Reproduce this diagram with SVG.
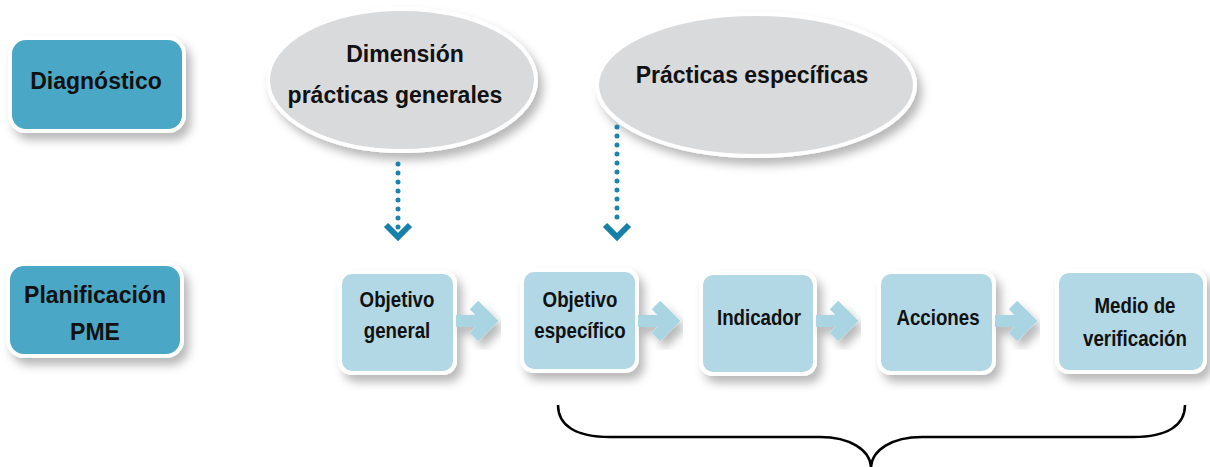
<svg xmlns="http://www.w3.org/2000/svg" width="1210" height="467" viewBox="0 0 1210 467">
<defs>
<filter id="sh" x="-20%" y="-20%" width="150%" height="160%">
<feDropShadow dx="5" dy="7" stdDeviation="5" flood-color="#000" flood-opacity="0.28"/>
</filter>
<style>
.dark{fill:#4CA7C6;stroke:#fff;stroke-width:4;filter:url(#sh)}
.light{fill:#B2D8E5;stroke:#fff;stroke-width:4;filter:url(#sh)}
.ell{fill:#D9DADC;stroke:#fff;stroke-width:4;filter:url(#sh)}
.t1{font-family:"Liberation Sans",Arial,sans-serif;font-weight:bold;font-size:23px;fill:#111;text-anchor:middle}
.t2{font-family:"Liberation Sans",Arial,sans-serif;font-weight:bold;font-size:22px;fill:#111;text-anchor:middle}
.dots{fill:none;stroke:#1B84AE;stroke-width:5;stroke-linecap:round;stroke-dasharray:0 9}
.chev{fill:none;stroke:#1780A8;stroke-width:6;stroke-linejoin:miter}
.arr{fill:none;stroke:#A9D4E2;stroke-width:12;filter:url(#sh)}
.brace{fill:none;stroke:#000;stroke-width:2.5}
</style>
</defs>
<g id="diagnostico">
<rect class="dark" x="10" y="38" width="174" height="93" rx="16"/>
<text class="t1" x="96" y="89">Diagnóstico</text>
</g>
<g id="planificacion">
<rect class="dark" x="8" y="264" width="174" height="92" rx="16"/>
<text class="t1" x="95" y="303">Planificación</text>
<text class="t1" x="95" y="340">PME</text>
</g>
<g id="dimension">
<ellipse class="ell" cx="402" cy="80" rx="134" ry="71"/>
<text class="t1" x="405" y="62">Dimensión</text>
<text class="t1" x="395" y="103">prácticas generales</text>
</g>
<g id="practicas">
<ellipse class="ell" cx="756" cy="85" rx="159" ry="71"/>
<text class="t1" x="752" y="83">Prácticas específicas</text>
</g>
<g id="objetivo-general">
<rect class="light" x="340" y="272" width="115" height="101" rx="12"/>
<text class="t2" transform="translate(397 307) scale(0.85 1)">Objetivo</text>
<text class="t2" transform="translate(397 338) scale(0.85 1)">general</text>
</g>
<g id="objetivo-especifico">
<rect class="light" x="522" y="270" width="115" height="101" rx="12"/>
<text class="t2" transform="translate(580 307) scale(0.85 1)">Objetivo</text>
<text class="t2" transform="translate(580 338) scale(0.85 1)">específico</text>
</g>
<g id="indicador">
<rect class="light" x="701" y="273" width="114" height="101" rx="12"/>
<text class="t2" transform="translate(759 325) scale(0.85 1)">Indicador</text>
</g>
<g id="acciones">
<rect class="light" x="879" y="272" width="115" height="101" rx="12"/>
<text class="t2" transform="translate(938 325) scale(0.85 1)">Acciones</text>
</g>
<g id="medio">
<rect class="light" x="1057" y="271" width="148" height="101" rx="12"/>
<text class="t2" transform="translate(1135 313) scale(0.85 1)">Medio de</text>
<text class="t2" transform="translate(1135 346) scale(0.85 1)">verificación</text>
</g>
<g id="connectors">
<path class="dots" d="M398 164 V228"/>
<polyline class="chev" points="386,225 398,237 410,225"/>
<path class="dots" d="M617 127 V226"/>
<polyline class="chev" points="605,225 617,237 629,225"/>
<path class="arr" d="M456 321 H490 M474 305 L490 321 L474 337"/>
<path class="arr" d="M638 321 H672 M656 305 L672 321 L656 337"/>
<path class="arr" d="M816 321 H850 M834 305 L850 321 L834 337"/>
<path class="arr" d="M995 321 H1029 M1013 305 L1029 321 L1013 337"/>
<path class="brace" d="M558 405 C558 425 575 437 610 437 H820 C850 437 870 450 871 467 C872 450 892 437 922 437 H1133 C1168 437 1185 425 1185 405"/>
</g>
</svg>
